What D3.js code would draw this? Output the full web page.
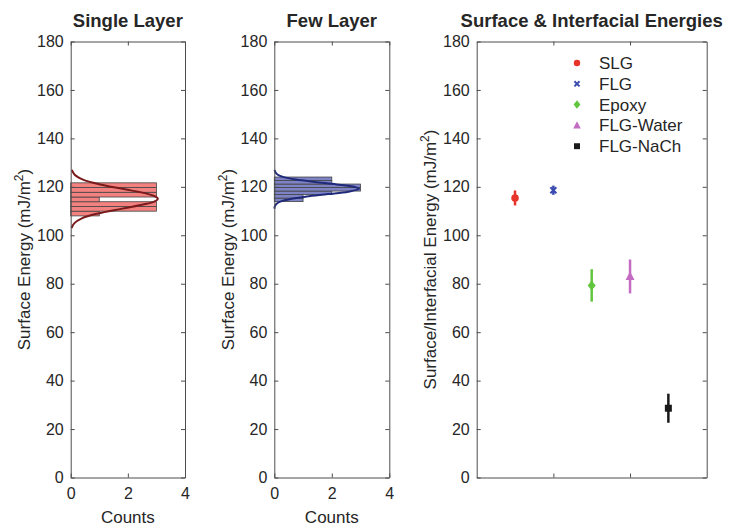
<!DOCTYPE html>
<html>
<head>
<meta charset="utf-8">
<script src="https://cdn.jsdelivr.net/npm/d3@7"></script>
<style>
  body { margin: 0; background: #fff; }
  svg text { font-family: "Liberation Sans", Arial, sans-serif; fill: #262626; }
</style>
</head>
<body>
<svg id="chart" width="730" height="529"></svg>
<script>
(function () {
  'use strict';

  // ---- data ----
  var yTicks = [0, 20, 40, 60, 80, 100, 120, 140, 160, 180];
  var countTicks = [0, 2, 4];
  var catTicks = [2, 4];

  // single layer histogram (energy bins, bottom to top)
  var slgBinLow = [108.0, 109.95, 111.9, 113.85, 115.8, 117.75, 119.7];
  var slgBinWidth = 1.95;
  var slgCounts = [1, 3, 3, 1, 3, 3, 3];
  var slgFitEnergy = [103, 105, 107, 109, 111, 113, 114, 115.1, 116, 117, 119, 121, 123, 125, 127];
  var slgFitCount = [0.03, 0.13, 0.39, 0.95, 1.80, 2.66, 2.94, 3.05, 2.97, 2.72, 1.90, 1.03, 0.43, 0.14, 0.04];

  // few layer histogram
  var flgBinLow = [113.9, 115.35, 116.8, 118.25, 119.7, 121.15, 122.6];
  var flgBinWidth = 1.45;
  var flgCounts = [1, 1, 2, 3, 3, 2, 2];
  var flgFitEnergy = [111, 112, 113, 114, 115, 116, 117, 118, 119.2, 120, 121, 122, 123, 124, 125, 126, 127];
  var flgFitCount = [0.005, 0.02, 0.08, 0.23, 0.56, 1.12, 1.87, 2.57, 2.95, 2.78, 2.17, 1.41, 0.75, 0.33, 0.12, 0.04, 0.01];

  // surface & interfacial energies
  var categories = ['SLG', 'FLG', 'Epoxy', 'FLG-Water', 'FLG-NaCh'];
  var catPos = [1, 2, 3, 4, 5];
  var energyMean = [115.4, 118.6, 79.3, 83.0, 28.6];
  var energyErr = [3.1, 1.9, 6.7, 7.0, 6.0];
  var catColors = ['#e8352b', '#3a4bb0', '#62c53e', '#c46cc2', '#1a1a1a'];
  var catShapes = ['circle', 'x', 'diamond', 'triangle', 'square'];

  var svg = d3.select('#chart');
  var axisColor = '#4d4d4d';
  var top = 41.5, bottom = 477.5;

  function yScale() {
    return d3.scaleLinear().domain([0, 180]).range([bottom, top]);
  }

  function drawFrame(g, x, y, xt, showXLabels) {
    var x0 = x.range()[0], x1 = x.range()[1];
    var axes = [
      g.append('g').attr('transform', 'translate(' + x0 + ',0)')
          .call(d3.axisLeft(y).tickValues(yTicks).tickSizeInner(-4).tickSizeOuter(0).tickPadding(7)),
      g.append('g').attr('transform', 'translate(' + x1 + ',0)')
          .call(d3.axisRight(y).tickValues(yTicks).tickSizeInner(-4).tickSizeOuter(0).tickFormat('')),
      g.append('g').attr('transform', 'translate(0,' + bottom + ')')
          .call(d3.axisBottom(x).tickValues(xt).tickSizeInner(-4).tickSizeOuter(0).tickPadding(10)
              .tickFormat(showXLabels ? d3.format('d') : '')),
      g.append('g').attr('transform', 'translate(0,' + top + ')')
          .call(d3.axisTop(x).tickValues(xt).tickSizeInner(-4).tickSizeOuter(0).tickFormat(''))
    ];
    axes.forEach(function (a) {
      a.attr('font-family', null).attr('font-size', null);
      a.selectAll('path, line').attr('stroke', axisColor).attr('stroke-width', 1);
      a.selectAll('text').attr('fill', '#262626').style('font-size', '16px');
    });
  }

  function addTitle(x, txt) {
    svg.append('text')
        .attr('x', (x.range()[0] + x.range()[1]) / 2)
        .attr('y', 27)
        .attr('text-anchor', 'middle')
        .style('font-size', '18.5px')
        .style('font-weight', 'bold')
        .text(txt);
  }

  function addYLabel(x, txt) {
    var t = svg.append('text')
        .attr('transform', 'translate(' + (x.range()[0] - 40.5) + ',' + ((top + bottom) / 2) + ') rotate(-90)')
        .attr('text-anchor', 'middle')
        .style('font-size', '17px');
    t.append('tspan').text(txt + ' (mJ/m');
    t.append('tspan').attr('dy', -7).style('font-size', '12px').text('2');
    t.append('tspan').attr('dy', 7).text(')');
  }

  function addXLabel(x, txt) {
    svg.append('text')
        .attr('x', (x.range()[0] + x.range()[1]) / 2)
        .attr('y', 523)
        .attr('text-anchor', 'middle')
        .style('font-size', '17px')
        .text(txt);
  }

  function histPanel(x0, x1, title, binLow, binWidth, counts, fitE, fitC, fill, curveColor) {
    var x = d3.scaleLinear().domain([0, 4]).range([x0, x1]);
    var y = yScale();
    var g = svg.append('g');

    g.selectAll('.bar')
        .data(binLow)
        .enter()
        .append('rect')
        .attr('class', 'bar')
        .attr('x', x(0))
        .attr('y', function (d) { return y(d + binWidth); })
        .attr('width', function (d, i) { return x(counts[i]) - x(0); })
        .attr('height', function (d) { return y(d) - y(d + binWidth); })
        .attr('fill', fill)
        .attr('stroke', '#444')
        .attr('stroke-width', 0.8);

    var line = d3.line()
        .x(function (d, i) { return x(fitC[i]); })
        .y(function (d) { return y(d); })
        .curve(d3.curveCatmullRom);

    g.append('path')
        .datum(fitE)
        .attr('d', line)
        .attr('fill', 'none')
        .attr('stroke', curveColor)
        .attr('stroke-width', 2);

    drawFrame(g, x, y, countTicks, true);
    addTitle(x, title);
    addYLabel(x, 'Surface Energy');
    addXLabel(x, 'Counts');
  }

  function marker(sel, shape, color, k) {
    k = k || 1;
    if (shape === 'x') {
      sel.append('path')
          .attr('d', 'M-3,-3L3,3M-3,3L3,-3')
          .attr('transform', 'scale(' + k + ')')
          .attr('stroke', color)
          .attr('stroke-width', 2 / k)
          .attr('fill', 'none');
      return;
    }
    var paths = {
      circle: d3.symbol().type(d3.symbolCircle).size(45)(),
      diamond: 'M0,-5L4,0L0,5L-4,0Z',
      triangle: 'M0,-5L4.5,3.5L-4.5,3.5Z',
      square: 'M-3.5,-3.5H3.5V3.5H-3.5Z'
    };
    sel.append('path')
        .attr('d', paths[shape])
        .attr('transform', 'scale(' + k + ')')
        .attr('fill', color);
  }

  histPanel(70.7, 185, 'Single Layer', slgBinLow, slgBinWidth, slgCounts,
      slgFitEnergy, slgFitCount, '#f3817f', '#7a1a1a');
  histPanel(274.3, 389.3, 'Few Layer', flgBinLow, flgBinWidth, flgCounts,
      flgFitEnergy, flgFitCount, '#7d83c5', '#1f2a7a');

  // ---- right panel ----
  var xc = d3.scaleLinear().domain([0, 6]).range([476.7, 706.7]);
  var yc = yScale();
  var gc = svg.append('g');

  gc.selectAll('.err')
      .data(categories)
      .enter()
      .append('line')
      .attr('class', 'err')
      .attr('x1', function (d, i) { return xc(catPos[i]); })
      .attr('x2', function (d, i) { return xc(catPos[i]); })
      .attr('y1', function (d, i) { return yc(energyMean[i] - energyErr[i]); })
      .attr('y2', function (d, i) { return yc(energyMean[i] + energyErr[i]); })
      .attr('stroke', function (d, i) { return catColors[i]; })
      .attr('stroke-width', 2.5);

  categories.forEach(function (c, i) {
    var m = gc.append('g')
        .attr('transform', 'translate(' + xc(catPos[i]) + ',' + yc(energyMean[i]) + ')');
    marker(m, catShapes[i], catColors[i], 1);
  });

  drawFrame(gc, xc, yc, catTicks, false);
  addTitle(xc, 'Surface & Interfacial Energies');
  addYLabel(xc, 'Surface/Interfacial Energy');

  // legend
  var legend = svg.append('g').attr('transform', 'translate(577,63)');
  categories.forEach(function (c, i) {
    var row = legend.append('g').attr('transform', 'translate(0,' + (i * 20.8) + ')');
    marker(row, catShapes[i], catColors[i], 0.85);
    row.append('text')
        .attr('x', 22)
        .attr('y', 6)
        .style('font-size', '17px')
        .text(c);
  });
}());
</script>
</body>
</html>
